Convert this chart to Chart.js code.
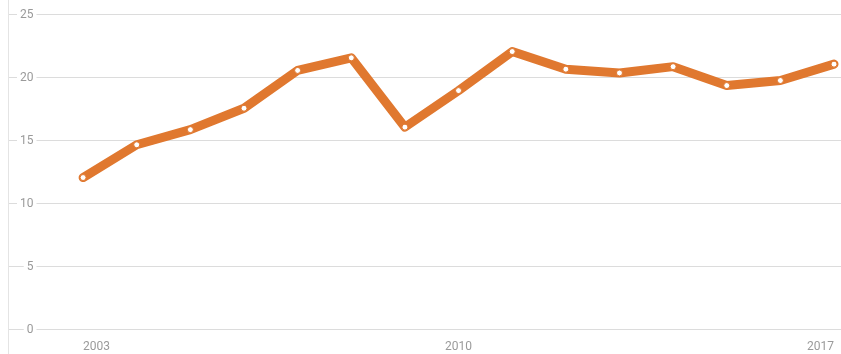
<!DOCTYPE html>
<html>
<head>
<meta charset="utf-8">
<script src="https://cdn.jsdelivr.net/npm/chart.js@4/dist/chart.umd.min.js"></script>
<style>
  html, body { margin: 0; padding: 0; background: #fff; }
  #wrap { width: 841px; height: 354px; position: relative; }
</style>
</head>
<body>
<div id="wrap"><canvas id="chart"></canvas></div>
<script>
// values
const years = [2003, 2004, 2005, 2006, 2007, 2008, 2009, 2010, 2011, 2012, 2013, 2014, 2015, 2016, 2017];
const values = [12.1, 14.7, 15.9, 17.6, 20.6, 21.6, 16.1, 19.0, 22.1, 20.7, 20.4, 20.9, 19.4, 19.8, 21.1];
const xTicks = [2003, 2010, 2017];
const yTicks = [0, 5, 10, 15, 20, 25];

const orange = '#e0782f';
const grey = '#9a9a9a';

// no extra padding around the plot, labels sit inside it
function noPad(s) {
  s.paddingTop = 0;
  s.paddingBottom = 0;
  s.paddingLeft = 0;
  s.paddingRight = 0;
}

const ctx = document.getElementById('chart').getContext('2d');
new Chart(ctx, {
  type: 'line',
  data: {
    datasets: [{
      data: years.map((y, i) => ({ x: y, y: values[i] })),
      borderColor: orange,
      borderWidth: 9,
      borderJoinStyle: 'round',
      borderCapStyle: 'round',
      pointRadius: 3,
      pointBackgroundColor: '#fff',
      pointBorderColor: orange,
      pointBorderWidth: 1,
      tension: 0,
      clip: false
    }]
  },
  options: {
    responsive: true,
    maintainAspectRatio: false,
    animation: false,
    layout: { padding: 0, autoPadding: false },
    plugins: { legend: { display: false }, tooltip: { enabled: false } },
    scales: {
      x: {
        type: 'linear',
        min: 2001.6,
        max: 2017.13,
        afterBuildTicks: s => { s.ticks = xTicks.map(v => ({ value: v })); },
        afterFit: s => { s.height = 0; noPad(s); },
        grid: { display: false },
        border: { display: false },
        ticks: {
          mirror: true,
          align: 'inner',
          padding: 0,
          color: grey,
          font: { family: 'Roboto', size: 12 },
          callback: v => String(v)
        }
      },
      y: {
        min: -1.905,
        max: 26.19,
        afterBuildTicks: s => { s.ticks = yTicks.map(v => ({ value: v })); },
        afterFit: s => { s.width = 8; noPad(s); },
        grid: { color: '#dcdcdc', lineWidth: 1, drawTicks: false },
        border: { display: true, color: '#e4e4e4', width: 1 },
        ticks: {
          mirror: true,
          crossAlign: 'far',
          padding: 12,
          color: grey,
          font: { family: 'Roboto', size: 12 },
          showLabelBackdrop: true,
          backdropColor: '#fff',
          backdropPadding: { left: 3, right: 3, top: 0, bottom: 0 }
        }
      }
    }
  }
});
</script>
</body>
</html>
